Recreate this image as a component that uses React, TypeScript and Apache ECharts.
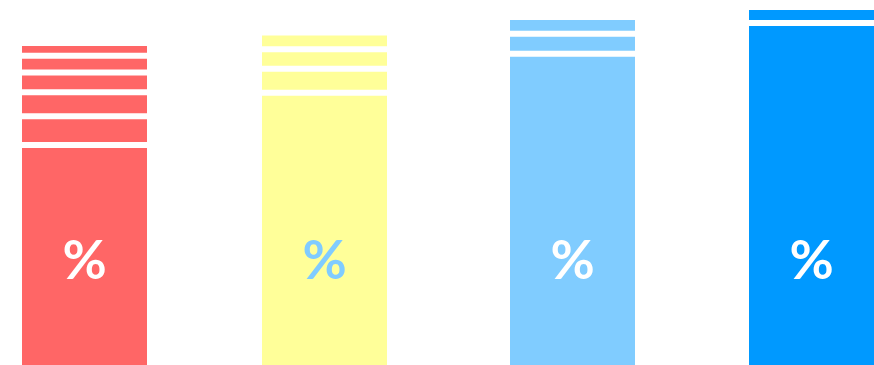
import React, { useEffect, useRef } from "react";
import * as echarts from "echarts";

// Data
const categories = ["1", "2", "3", "4"];
const baseValues = [60.8, 74.9, 85.5, 93.8];
const layer1 = [7.8, 6.5, 5.4, 4.3];
const layer2 = [6.5, 5.3, 4.5, null];
const layer3 = [5.3, 4.5, null, null];
const layer4 = [4.5, null, null, null];
const layer5 = [3.5, null, null, null];
const labelTexts = ["%", "%", "%", "%"];

// Styles / layout
const barColors = ["#ff6666", "#ffff99", "#80ccff", "#0099ff"];
const labelColors = ["#ffffff", "#80ccff", "#ffffff", "#ffffff"];
const gridLefts = [19, 259, 507, 746];
const GRID_W = 131;
const GRID_H = 370;

export default function App() {
  const ref = useRef<HTMLDivElement>(null);
  useEffect(() => {
    if (!ref.current) return;
    const chart = echarts.init(ref.current, undefined, { renderer: "svg" });
    const layers = [layer1, layer2, layer3, layer4, layer5];
    const grid: any[] = [];
    const xAxis: any[] = [];
    const yAxis: any[] = [];
    const series: any[] = [];
    categories.forEach((cat, i) => {
      grid.push({ left: gridLefts[i], top: 0, width: GRID_W, height: GRID_H });
      xAxis.push({ type: "category", gridIndex: i, data: [cat], show: false });
      yAxis.push({ type: "value", gridIndex: i, min: 0, max: 100, show: false });
      const common = {
        type: "bar",
        xAxisIndex: i,
        yAxisIndex: i,
        stack: "s" + i,
        barWidth: GRID_W,
        itemStyle: { color: barColors[i], borderColor: "#ffffff", borderWidth: 3 },
      };
      series.push({
        ...common,
        data: [baseValues[i]],
        label: {
          show: true,
          position: "insideBottom",
          distance: 85,
          formatter: labelTexts[i],
          color: labelColors[i],
          fontSize: 54,
          fontFamily: "Lato",
          fontWeight: "bold",
        },
      });
      layers.forEach((l) => {
        if (l[i] != null) series.push({ ...common, data: [l[i]] });
      });
    });
    chart.setOption({ animation: false, grid, xAxis, yAxis, series });
    return () => chart.dispose();
  }, []);
  return (
    <div
      ref={ref}
      style={{ position: "fixed", left: 0, top: 0, width: 880, height: 372, background: "#ffffff" }}
    />
  );
}
